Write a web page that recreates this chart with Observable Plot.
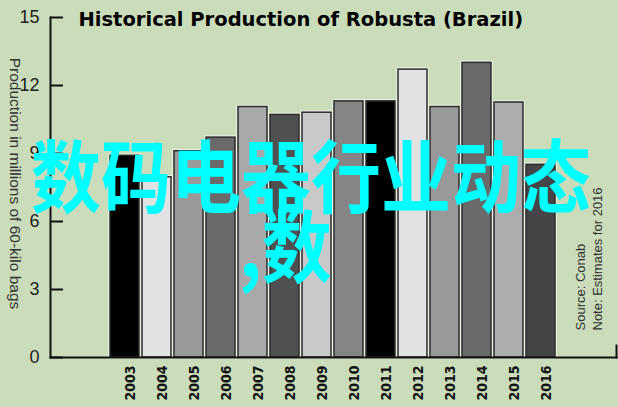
<!DOCTYPE html>
<html><head><meta charset="utf-8">
<script src="https://cdn.jsdelivr.net/npm/d3@7"></script>
<script src="https://cdn.jsdelivr.net/npm/@observablehq/plot@0.6"></script>
<style>
html,body{margin:0;padding:0;background:#cadcb9;}
#wrap{position:relative;width:618px;height:407px;overflow:hidden;}
#wrap svg{position:absolute;left:0;top:0;}
.wm{position:absolute;font-family:"Noto Sans CJK SC",sans-serif;color:#00ffff;font-size:70px;line-height:1;white-space:nowrap;font-weight:700;transform:scaleY(1.13);transform-origin:0 0;}
</style></head><body>
<div id="wrap"></div>
<script>
const years = ["2003","2004","2005","2006","2007","2008","2009","2010","2011","2012","2013","2014","2015","2016"];
const production = [8.9, 7.95, 9.1, 9.7, 11.05, 10.7, 10.8, 11.3, 11.3, 12.7, 11.05, 13.0, 11.25, 8.5];
const barColors = ["#000000","#e2e2e2","#9a9a9a","#6a6a6a","#a9a9a9","#505050","#c9c9c9","#858585","#000000","#e2e2e2","#999999","#6a6a6a","#adadad","#454548"];
const yTicks = [0, 3, 6, 9, 12, 15];
const title = "Historical Production of Robusta (Brazil)";
const yLabel = "Production in millions of 60-kilo bags";
const notes = "Source: Conab\nNote: Estimates for 2016";
const watermark = ["数码电器行业动态", ",数"];

const data = years.map((y, i) => ({year: y, value: production[i], color: barColors[i]}));

const W = 618, H = 407, mL = 50, mR = 2, mT = 17, mB = 50;
const chart = Plot.plot({
  width: W, height: H,
  marginLeft: mL, marginRight: mR, marginTop: mT, marginBottom: mB,
  style: {background: "transparent", fontFamily: "'Liberation Sans', Arial, sans-serif", overflow: "visible"},
  x: {type: "band", domain: years, range: [105, 561], padding: 0.08},
  y: {domain: [0, 15]},
  marks: [
    Plot.barY(data, {x: "year", y: "value", fill: "color", stroke: "#eef2e6", strokeWidth: 3.5}),
    Plot.barY(data, {x: "year", y: "value", fill: "color", stroke: "#2b2b2b", strokeWidth: 1.5}),
    Plot.frame({anchor: "left", stroke: "#111", strokeWidth: 2}),
    Plot.frame({anchor: "bottom", stroke: "#111", strokeWidth: 2}),
    Plot.frame({anchor: "right", stroke: "#111", strokeWidth: 2, insetTop: 328}),
    Plot.ruleY(yTicks, {y: d => d, insetRight: W - mL - mR - 13, stroke: "#111", strokeWidth: 2}),
    Plot.axisY({ticks: yTicks, tickSize: 0, tickPadding: 11, fontSize: 18, fill: "#222", label: null}),
    Plot.axisX({tickSize: 0, tickPadding: 8, rotate: -90, textAnchor: "end", fontSize: 14, fontWeight: "bold",
      fontFamily: "'Liberation Sans Narrow', 'DejaVu Sans Condensed', sans-serif", fill: "#111", label: null}),
    Plot.text([title], {frameAnchor: "top-left", dx: 28, dy: 8, lineAnchor: "bottom", textAnchor: "start",
      fontSize: 19.5, fontWeight: "bold", fontFamily: "'DejaVu Sans', sans-serif", fill: "#000"}),
    Plot.text([yLabel], {frameAnchor: "left", rotate: 90, dx: -36, dy: -4, textAnchor: "middle", fontSize: 15.5, fill: "#333"}),
    Plot.text([notes], {frameAnchor: "bottom-right", rotate: -90, dx: -15, dy: -27, textAnchor: "start",
      fontSize: 13, lineHeight: 1.25, fill: "#333"})
  ]
});
const wrap = document.getElementById("wrap");
wrap.appendChild(chart);
const pos = [[31, 134], [239, 204]];
watermark.forEach((t, i) => {
  const d = document.createElement("div");
  d.className = "wm";
  d.textContent = t;
  d.style.left = pos[i][0] + "px";
  d.style.top = pos[i][1] + "px";
  wrap.appendChild(d);
});
</script>
</body></html>
